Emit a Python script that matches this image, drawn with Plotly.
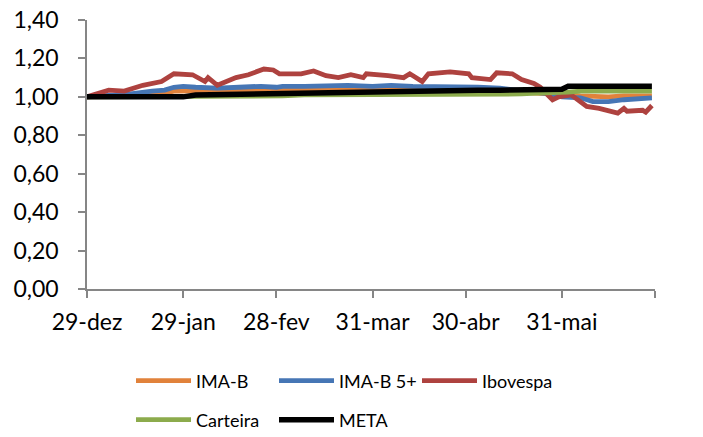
import plotly.graph_objects as go

# Ibovespa (own sampling)
ibov_dates = ["2014-12-29", "2015-01-02", "2015-01-05", "2015-01-10", "2015-01-16", "2015-01-22",
              "2015-01-26", "2015-02-01", "2015-02-05", "2015-02-06", "2015-02-09", "2015-02-15",
              "2015-02-19", "2015-02-24", "2015-02-27", "2015-03-01", "2015-03-08", "2015-03-12",
              "2015-03-16", "2015-03-20", "2015-03-24", "2015-03-28", "2015-03-29", "2015-04-05",
              "2015-04-10", "2015-04-12", "2015-04-16", "2015-04-18", "2015-04-25", "2015-05-01",
              "2015-05-02", "2015-05-08", "2015-05-10", "2015-05-15", "2015-05-18", "2015-05-22",
              "2015-05-24", "2015-05-28", "2015-05-30", "2015-06-03", "2015-06-06", "2015-06-08",
              "2015-06-12", "2015-06-18", "2015-06-20", "2015-06-21", "2015-06-26", "2015-06-27",
              "2015-06-29"]
ibovespa = [1.00, 1.02, 1.035, 1.03, 1.06, 1.08,
            1.12, 1.115, 1.08, 1.10, 1.06, 1.10,
            1.115, 1.145, 1.14, 1.12, 1.12, 1.135,
            1.11, 1.10, 1.115, 1.10, 1.12, 1.11,
            1.10, 1.12, 1.08, 1.12, 1.13, 1.12,
            1.10, 1.09, 1.125, 1.12, 1.09, 1.07,
            1.05, 0.985, 1.00, 1.01, 0.975, 0.95,
            0.94, 0.915, 0.94, 0.925, 0.93, 0.92,
            0.955]

# Other series (shared sampling)
dates = ["2014-12-29", "2015-01-05", "2015-01-12", "2015-01-19", "2015-01-23", "2015-01-26",
         "2015-01-29", "2015-02-02", "2015-02-09", "2015-02-16", "2015-02-23", "2015-02-28",
         "2015-03-02", "2015-03-09", "2015-03-16", "2015-03-23", "2015-03-31", "2015-04-06",
         "2015-04-13", "2015-04-20", "2015-04-30", "2015-05-04", "2015-05-11", "2015-05-18",
         "2015-05-23", "2015-05-27", "2015-05-31", "2015-06-02", "2015-06-06", "2015-06-10",
         "2015-06-15", "2015-06-20", "2015-06-24", "2015-06-29"]
ima_b5 = [1.00, 1.005, 1.015, 1.03, 1.035, 1.05,
          1.055, 1.05, 1.045, 1.05, 1.055, 1.05,
          1.055, 1.055, 1.06, 1.06, 1.055, 1.06,
          1.055, 1.055, 1.055, 1.05, 1.045, 1.03,
          1.02, 1.015, 1.00, 1.00, 0.995, 0.975,
          0.975, 0.985, 0.99, 0.995]
ima_b = [1.00, 1.005, 1.01, 1.015, 1.02, 1.03,
         1.03, 1.03, 1.03, 1.035, 1.035, 1.035,
         1.035, 1.04, 1.04, 1.04, 1.04, 1.04,
         1.04, 1.04, 1.035, 1.035, 1.03, 1.025,
         1.02, 1.015, 1.01, 1.01, 1.005, 1.00,
         1.00, 1.005, 1.005, 1.005]
carteira = [1.00, 1.00, 1.00, 1.00, 1.00, 1.00,
            1.00, 1.00, 1.005, 1.005, 1.005, 1.005,
            1.005, 1.01, 1.01, 1.01, 1.015, 1.015,
            1.015, 1.015, 1.015, 1.015, 1.015, 1.015,
            1.02, 1.02, 1.025, 1.025, 1.03, 1.03,
            1.03, 1.03, 1.03, 1.03]
meta = [1.00, 1.00, 1.00, 1.00, 1.00, 1.00,
        1.00, 1.01, 1.012, 1.015, 1.018, 1.02,
        1.022, 1.025, 1.027, 1.029, 1.031, 1.032,
        1.033, 1.034, 1.035, 1.035, 1.035, 1.035,
        1.035, 1.035, 1.04, 1.055, 1.055, 1.055,
        1.055, 1.055, 1.055, 1.055]

tick_vals = ["2014-12-29", "2015-01-29", "2015-02-28", "2015-03-31", "2015-04-30", "2015-05-31", "2015-06-30"]
tick_text = ["29-dez", "29-jan", "28-fev", "31-mar", "30-abr", "31-mai", ""]
y_ticks = [0.0, 0.2, 0.4, 0.6, 0.8, 1.0, 1.2, 1.4]

FONT = "Lato, 'Open Sans', sans-serif"

fig = go.Figure()
series = [
    ("IMA-B", dates, ima_b, "#E1823B", 4.8, "legend"),
    ("IMA-B 5+", dates, ima_b5, "#4676B5", 4.8, "legend"),
    ("Ibovespa", ibov_dates, ibovespa, "#AE423F", 4.8, "legend"),
    ("Carteira", dates, carteira, "#8CAB4C", 4.8, "legend2"),
    ("META", dates, meta, "#000000", 5.5, "legend2"),
]
for name, xs, ys, color, w, lg in series:
    fig.add_trace(go.Scatter(x=xs, y=ys, name=name, mode="lines", legend=lg,
                             line=dict(color=color, width=w)))

H = 437.0
legend_common = dict(orientation="h", xref="container", yref="container",
                     xanchor="left", yanchor="middle",
                     font=dict(size=18, family=FONT, color="#000000"), itemwidth=55,
                     entrywidth=73, entrywidthmode="pixels",
                     itemclick=False, bgcolor="rgba(0,0,0,0)")

fig.update_layout(
    width=703, height=437,
    margin=dict(l=87, r=48, t=20, b=148),
    paper_bgcolor="white", plot_bgcolor="white",
    separators=", ",
    font=dict(family=FONT, color="#000000"),
    showlegend=True,
    legend=dict(x=131 / 703.0, y=1 - 381 / H, **legend_common),
    legend2=dict(x=131 / 703.0, y=1 - 420 / H, **legend_common),
)
fig.update_xaxes(type="date", range=["2014-12-29", "2015-06-30"],
                 tickvals=tick_vals, ticktext=tick_text, automargin=False,
                 showgrid=False, zeroline=False,
                 showline=True, linecolor="#868686", linewidth=1.5,
                 ticks="outside", ticklen=7, tickcolor="#868686", tickwidth=1.5,
                 tickfont=dict(size=23, family=FONT), ticklabelstandoff=5)
fig.update_yaxes(range=[0, 1.4], tickvals=y_ticks, tickformat=".2f", automargin=False,
                 showgrid=False, zeroline=False,
                 showline=True, linecolor="#868686", linewidth=1.5,
                 ticks="outside", ticklen=7, tickcolor="#868686", tickwidth=1.5,
                 tickfont=dict(size=23, family=FONT), ticklabelstandoff=15)

fig.write_html("out.html", config={"displayModeBar": False},
               post_script="document.body.style.margin='0';document.body.style.overflow='hidden';")
